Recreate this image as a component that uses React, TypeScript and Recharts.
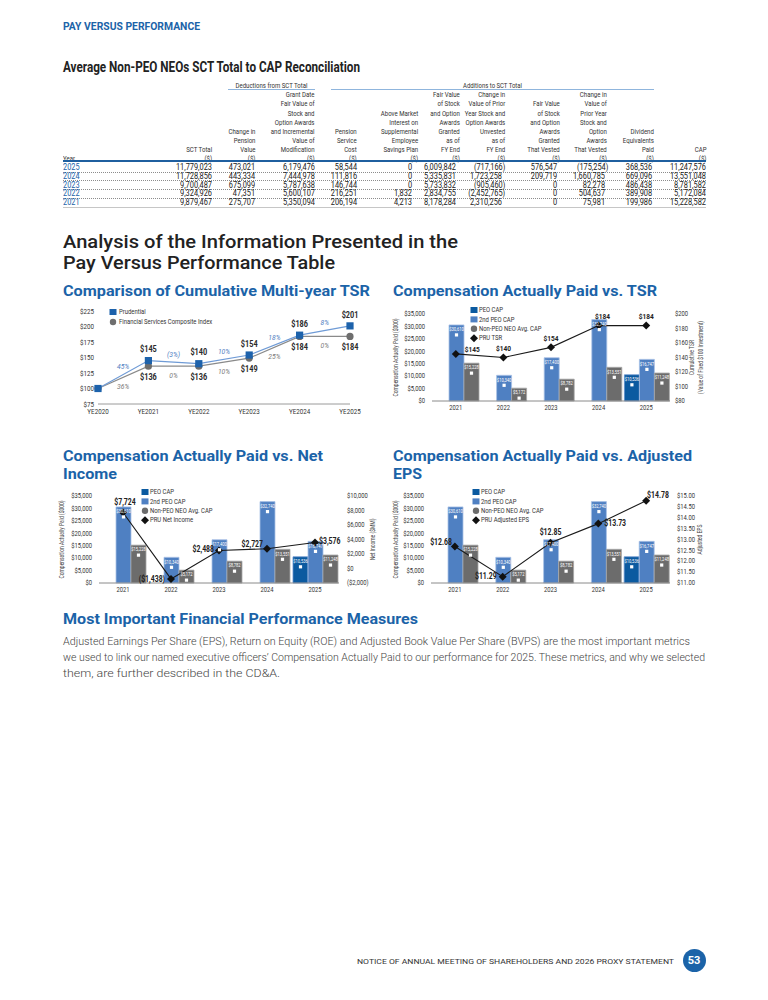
import React from "react";
import {
  ComposedChart,
  LineChart,
  Line,
  Bar,
  XAxis,
  YAxis,
  LabelList,
  ReferenceDot,
} from "recharts";

/* ── fonts / colours ───────────────────────────────────────────── */
// no condensed face is installed, so Roboto is squeezed horizontally
const COND = 'Roboto, "Liberation Sans", sans-serif';
const SANS = 'Roboto, "Noto Sans", "DejaVu Sans", sans-serif';
const K = 0.78;
const BLUE = "#1b63a8";
const INK = "#2a2a2a";
const PEO_DARK = "#0b5aa0";
const PEO_MID = "#4f80c2";
const NEO_GRAY = "#6c6c6c";

/* ── reconciliation table ──────────────────────────────────────── */
const tableYears = ["2025", "2024", "2023", "2022", "2021"];
const sctTotal = [11779023, 11728856, 9700487, 9324926, 9879467];
const pensionValueChange = [473021, 443334, 675099, 47351, 275707];
const grantDateFairValue = [6179476, 7444978, 5787638, 5600107, 5350094];
const pensionServiceCost = [58544, 111816, 146744, 216251, 206194];
const aboveMarketInterest = [0, 0, 0, 1832, 4213];
const fvGrantedUnvested = [6009842, 5335831, 5733832, 2834755, 8178284];
const chgPriorUnvested = [-717166, 1723258, -905460, -2452765, 2310256];
const fvGrantedVested = [576547, 209719, 0, 0, 0];
const chgPriorVested = [-175254, 1660785, 82278, 504637, 75981];
const dividendsPaid = [368536, 669096, 486438, 389908, 199986];
const capTotal = [11247576, 13551048, 8781582, 5172084, 15228582];

const tableHeaders = [
  ["SCT Total", "($)"],
  ["Change in", "Pension", "Value", "($)"],
  ["Grant Date", "Fair Value of", "Stock and", "Option Awards", "and Incremental", "Value of", "Modification", "($)"],
  ["Pension", "Service", "Cost", "($)"],
  ["Above Market", "Interest on", "Supplemental", "Employee", "Savings Plan", "($)"],
  ["Fair Value", "of Stock", "and Option", "Awards", "Granted", "as of", "FY End", "($)"],
  ["Change in", "Value of Prior", "Year Stock and", "Option Awards", "Unvested", "as of", "FY End", "($)"],
  ["Fair Value", "of Stock", "and Option", "Awards", "Granted", "That Vested", "($)"],
  ["Change in", "Value of", "Prior Year", "Stock and", "Option", "Awards", "That Vested", "($)"],
  ["Dividend", "Equivalents", "Paid", "($)"],
  ["CAP", "($)"],
];
const tableColumns = [
  sctTotal, pensionValueChange, grantDateFairValue, pensionServiceCost, aboveMarketInterest,
  fvGrantedUnvested, chgPriorUnvested, fvGrantedVested, chgPriorVested, dividendsPaid, capTotal,
];

/* ── TSR comparison ────────────────────────────────────────────── */
const tsrYears = ["YE2020", "YE2021", "YE2022", "YE2023", "YE2024", "YE2025"];
const prudentialTsr = [100, 145, 140, 154, 186, 201];
const compositeTsr = [100, 136, 136, 149, 184, 184];
const prudentialChange = ["45%", "(3%)", "10%", "18%", "8%"];
const compositeChange = ["36%", "0%", "10%", "25%", "0%"];
const tsrAxisTicks = [75, 100, 125, 150, 175, 200, 225];

/* ── CAP vs. measures ($000) ───────────────────────────────────── */
const capYears = ["2021", "2022", "2023", "2024", "2025"];
const peoCap = [null, null, null, null, 10536];
const secondPeoCap = [30610, 10340, 17400, 32740, 16747];
const neoAvgCap = [15228, 5172, 8782, 13551, 11248];
const pruTsr = [145, 140, 154, 184, 184];
const pruNetIncome = [7724, -1438, 2488, 2727, 3576];
const pruAdjEps = [12.68, 11.29, 12.85, 13.73, 14.78];

const capTicks = [0, 5000, 10000, 15000, 20000, 25000, 30000, 35000];
const cumTsrTicks = [80, 100, 120, 140, 160, 180, 200];
const netIncomeTicks = [-2000, 0, 2000, 4000, 6000, 8000, 10000];
const epsTicks = [11, 11.5, 12, 12.5, 13, 13.5, 14, 14.5, 15];

const capLegend = ["PEO CAP", "2nd PEO CAP", "Non-PEO NEO Avg. CAP"];

const fmtNum = (v: number) =>
  v < 0 ? `(${Math.abs(v).toLocaleString("en-US")})` : v.toLocaleString("en-US");
const fmtMoney = (v: number) =>
  v < 0 ? `($${Math.abs(v).toLocaleString("en-US")})` : `$${v.toLocaleString("en-US")}`;
const fmtEps = (v: number) => `$${v.toFixed(2)}`;
const fmtWhole = (v: number) => `$${v}`;

/* label placement around the line points: [dx, dy, anchor] */
type Place = [number, number, "start" | "middle" | "end"];
const TOP: Place = [0, -9, "middle"];
const tsrPlaces: Place[] = [[9, -5, "start"], TOP, TOP, [4, -9, "middle"], TOP];
const niPlaces: Place[] = [[2, -10, "middle"], [-6, 0, "end"], [-5, -1, "end"], [-4, -4, "end"], [4, -1, "start"]];
const epsPlaces: Place[] = [[-3, -4, "end"], [-6, 0, "end"], [0, -10, "middle"], [6, 0, "start"], [1, -6, "start"]];

/* ── small pieces ──────────────────────────────────────────────── */
// svg text stretched to the width it has in the printed page; y is the cap centre
function Fit({ x, y, w, size, weight = 400, color = INK, family = COND, anchor = "start", children }: any) {
  const H = size * 2;
  return (
    <svg
      style={{ position: "absolute", left: 0, top: y - H / 2, overflow: "visible", pointerEvents: "none" }}
      width={768}
      height={H}
    >
      <text
        x={x}
        y={H / 2 + size * 0.355}
        textAnchor={anchor}
        textLength={w}
        lengthAdjust="spacingAndGlyphs"
        fontSize={size}
        fontWeight={weight}
        fill={color}
        fontFamily={family}
      >
        {children}
      </text>
    </svg>
  );
}

function NText({ x, y, k = K, anchor = "start", base = "central", size = 7.5, weight, fill = "#333", italic, rotate, children }: any) {
  return (
    <text
      transform={`translate(${x} ${y})${rotate ? ` rotate(${rotate})` : ""} scale(${k} 1)`}
      textAnchor={anchor}
      dominantBaseline={base}
      fontSize={size}
      fontWeight={weight}
      fontStyle={italic ? "italic" : undefined}
      fill={fill}
      fontFamily={COND}
    >
      {children}
    </text>
  );
}

function Marker({ kind, color, cx, cy }: any) {
  if (kind === "circle") return <circle cx={cx} cy={cy} r={3.2} fill={color} />;
  if (kind === "diamond")
    return (
      <polygon
        points={`${cx},${cy - 4} ${cx + 4},${cy} ${cx},${cy + 4} ${cx - 4},${cy}`}
        fill={color}
      />
    );
  return <rect x={cx - 3.5} y={cy - 3} width={7} height={6} fill={color} />;
}

function KeyBox({ mx, my, step, textGap, items }: any) {
  return (
    <svg
      style={{ position: "absolute", left: mx - 6, top: my - 6, overflow: "visible" }}
      width={160}
      height={items.length * step + 6}
    >
      {items.map((it: any, i: number) => (
        <g key={it.label}>
          <Marker kind={it.kind} color={it.color} cx={6} cy={6 + i * step} />
          <NText x={6 + textGap} y={6 + i * step} size={7.6}>
            {it.label}
          </NText>
        </g>
      ))}
    </svg>
  );
}

const yTick = (fmt: (v: number) => string, size = 7.5) => (p: any) => (
  <NText x={p.x} y={p.y} anchor={p.textAnchor} size={size}>
    {fmt(p.payload.value)}
  </NText>
);
const xTick = (fmt: (v: any) => string, size = 7.5) => (p: any) => (
  <NText x={p.x} y={p.y} anchor="middle" base="hanging" size={size}>
    {fmt(p.payload.value)}
  </NText>
);

function BarTag(props: any) {
  const vb = props.viewBox || props;
  const x = vb.x ?? props.x;
  const y = vb.y ?? props.y;
  const w = vb.width ?? props.width;
  const value = props.value;
  if (value == null || x == null) return null;
  const cx = x + w / 2;
  return (
    <g>
      <NText x={cx} y={y + 4.6} anchor="middle" size={4.8} fill="#fff" k={0.85}>
        {fmtMoney(value)}
      </NText>
      <rect x={cx - 1.6} y={y + 8.4} width={3.2} height={3.2} fill="#fff" />
    </g>
  );
}

const pointTag = (places: Place[], fmt: (v: number) => string, size: number) => (props: any) => {
  const vb = props.viewBox || props;
  const x = vb.x ?? props.x;
  const y = vb.y ?? props.y;
  const i = props.index ?? 0;
  const [dx, dy, anchor] = places[i] || TOP;
  return (
    <NText x={x + dx} y={y + dy} anchor={anchor} size={size} weight={700} fill="#222" k={0.82}>
      {fmt(props.value)}
    </NText>
  );
};

const diamondDot = (p: any) => (
  <polygon
    key={`dm${p.index}`}
    points={`${p.cx},${p.cy - 4} ${p.cx + 4},${p.cy} ${p.cx},${p.cy + 4} ${p.cx - 4},${p.cy}`}
    fill="#111"
  />
);

const leftTitle = (props: any) => {
  const vb = props.viewBox;
  return (
    <NText x={vb.x + 6} y={vb.y + vb.height / 2} anchor="middle" size={6.4} fill="#444" rotate={-90}>
      Compensation Actually Paid ($000)
    </NText>
  );
};

const rightTitle = (lines: string[], first: number) => (props: any) => {
  const vb = props.viewBox;
  return (
    <g>
      {lines.map((ln, k) => (
        <NText key={ln} x={vb.x + first + k * 9} y={vb.y + vb.height / 2} anchor="middle" size={6.4} fill="#444" rotate={-90}>
          {ln}
        </NText>
      ))}
    </g>
  );
};

/* ── CAP combo chart ───────────────────────────────────────────── */
function CapChart({ left, top, width, leftW, rightW, metric, domain, ticks, fmt, rightTick, titles, titleAt, places, tagSize }: any) {
  const rows = capYears.map((year, i) => ({
    year,
    peo: peoCap[i],
    peo2: secondPeoCap[i],
    neo: neoAvgCap[i],
    metric: metric[i],
  }));
  return (
    <div style={{ position: "absolute", left, top }}>
      <ComposedChart
        width={width}
        height={118}
        data={rows}
        margin={{ top: 12, right: 0, bottom: 2, left: 0 }}
        barCategoryGap={2}
        barGap={0}
      >
        <XAxis
          dataKey="year"
          height={17}
          tick={xTick(String)}
          tickLine={false}
          tickSize={2}
          tickMargin={2}
          axisLine={{ stroke: "#8a8a8a" }}
        />
        <YAxis
          yAxisId="cap"
          width={leftW}
          domain={[0, 35000]}
          ticks={capTicks}
          tick={yTick(fmtMoney)}
          tickLine={false}
          tickSize={5}
          tickMargin={2}
          axisLine={false}
          interval={0}
          label={leftTitle}
        />
        <YAxis
          yAxisId="metric"
          orientation="right"
          width={rightW}
          domain={domain}
          ticks={ticks}
          tick={yTick(fmt)}
          tickLine={false}
          tickSize={rightTick}
          tickMargin={2}
          axisLine={false}
          interval={0}
          label={rightTitle(titles, titleAt)}
        />
        <Bar yAxisId="cap" dataKey="peo" fill={PEO_DARK} stroke="#5f8ecb" strokeWidth={0.8} isAnimationActive={false} label={BarTag} />
        <Bar yAxisId="cap" dataKey="peo2" fill={PEO_MID} stroke="#a9c2e6" strokeWidth={0.8} isAnimationActive={false} label={BarTag} />
        <Bar yAxisId="cap" dataKey="neo" fill={NEO_GRAY} stroke="#a6a6a6" strokeWidth={0.8} isAnimationActive={false} label={BarTag} />
        <Line
          yAxisId="metric"
          dataKey="metric"
          type="linear"
          stroke="#1a1a1a"
          strokeWidth={1.1}
          dot={diamondDot}
          isAnimationActive={false}
        >
          <LabelList dataKey="metric" content={pointTag(places, fmt, tagSize)} />
        </Line>
      </ComposedChart>
    </div>
  );
}

/* ── TSR comparison chart ──────────────────────────────────────── */
function TsrChart() {
  const rows = tsrYears.map((label, i) => ({
    x: i,
    label,
    pru: prudentialTsr[i],
    comp: compositeTsr[i],
  }));
  const tag = (dy: number) => (props: any) => {
    const vb = props.viewBox || props;
    const x = vb.x ?? props.x;
    const y = vb.y ?? props.y;
    if (props.index === 0) return null;
    return (
      <NText x={x} y={y + dy} anchor="middle" size={8.6} weight={700} fill="#2a2a2a" k={0.85}>
        ${props.value}
      </NText>
    );
  };
  const pct = (txt: string, dy: number, color: string) => (p: any) => (
    <NText x={p.cx} y={p.cy + dy} anchor="middle" size={8} italic fill={color} k={0.85}>
      {txt}
    </NText>
  );
  return (
    <div style={{ position: "absolute", left: 56, top: 302 }}>
      <LineChart width={316} height={118} data={rows} margin={{ top: 9, right: 22, bottom: 2, left: 0 }}>
        <XAxis
          type="number"
          dataKey="x"
          domain={[0, 5]}
          ticks={[0, 1, 2, 3, 4, 5]}
          tick={xTick((i: number) => tsrYears[i], 8)}
          height={14}
          tickLine={false}
          tickSize={2}
          tickMargin={2}
          interval={0}
          axisLine={{ stroke: "#9a9a9a" }}
        />
        <YAxis
          width={42}
          domain={[75, 225]}
          ticks={tsrAxisTicks}
          tick={yTick(fmtWhole, 8)}
          tickLine={false}
          tickSize={2}
          tickMargin={2}
          axisLine={false}
          interval={0}
        />
        <Line
          dataKey="comp"
          type="linear"
          stroke="#8a8a8a"
          strokeWidth={1.2}
          isAnimationActive={false}
          dot={(p: any) => <circle key={`c${p.index}`} cx={p.cx} cy={p.cy} r={3.6} fill="#6e6e6e" />}
        >
          <LabelList dataKey="comp" content={tag(11)} />
        </Line>
        <Line
          dataKey="pru"
          type="linear"
          stroke="#6f9bd6"
          strokeWidth={1.2}
          isAnimationActive={false}
          dot={(p: any) => <rect key={`s${p.index}`} x={p.cx - 3.6} y={p.cy - 3.6} width={7.2} height={7.2} fill="#1d62ab" />}
        >
          <LabelList dataKey="pru" content={tag(-11)} />
        </Line>
        {prudentialChange.map((txt, i) => (
          <ReferenceDot
            key={`pp${i}`}
            x={i + 0.5}
            y={(prudentialTsr[i] + prudentialTsr[i + 1]) / 2}
            r={0}
            shape={pct(txt, -8, "#4f80c2")}
          />
        ))}
        {compositeChange.map((txt, i) => (
          <ReferenceDot
            key={`cp${i}`}
            x={i + 0.5}
            y={(compositeTsr[i] + compositeTsr[i + 1]) / 2}
            r={0}
            shape={pct(txt, 9, "#7a7a7a")}
          />
        ))}
      </LineChart>
    </div>
  );
}

/* ── reconciliation table ──────────────────────────────────────── */
const headRight = [212, 255, 315, 357, 418, 460, 505, 560, 607, 654, 706];
const valueRight = [212, 255, 315, 357, 412, 456, 502, 557, 605, 652, 706];
const LINE = 9.05;
const ROW = 8.7;
const cell = (size: number, k: number, origin: string): React.CSSProperties => ({
  position: "absolute",
  fontSize: size,
  fontFamily: COND,
  whiteSpace: "nowrap",
  transform: `scaleX(${k})`,
  transformOrigin: origin,
});

function ReconTable() {
  return (
    <>
      <Fit x={271.5} y={85} w={72} size={8} anchor="middle" color="#333">Deductions from SCT Total</Fit>
      <div style={{ position: "absolute", left: 228, width: 87, top: 88.5, borderTop: "1.5px solid #8fb5dd" }} />
      <Fit x={492.5} y={85} w={59} size={8} anchor="middle" color="#333">Additions to SCT Total</Fit>
      <div style={{ position: "absolute", left: 331, width: 323, top: 88.5, borderTop: "1.5px solid #8fb5dd" }} />

      {tableHeaders.map((lines, c) => (
        <div
          key={`h${c}`}
          style={{
            ...cell(8, 0.76, "right center"),
            right: 768 - headRight[c],
            top: 158.3 + LINE / 2 - lines.length * LINE,
            lineHeight: `${LINE}px`,
            color: "#333",
            textAlign: "right",
          }}
        >
          {lines.map((l, k) => (
            <div key={k}>{l}</div>
          ))}
        </div>
      ))}
      <div style={{ ...cell(8, 0.76, "left center"), left: 63, top: 158.3 - LINE / 2, lineHeight: `${LINE}px`, color: "#333" }}>
        Year
      </div>
      <div style={{ position: "absolute", left: 63, width: 643, top: 160, borderTop: "2px solid #1f5f9f" }} />

      {tableYears.map((yr, r) => {
        const cy = 167.7 + r * ROW;
        return (
          <React.Fragment key={yr}>
            <div style={{ ...cell(9, 0.82, "left center"), left: 63, top: cy - ROW / 2, lineHeight: `${ROW}px`, color: BLUE }}>
              {yr}
            </div>
            {tableColumns.map((col, c) => (
              <div
                key={`v${r}-${c}`}
                style={{
                  ...cell(9, 0.82, "right center"),
                  right: 768 - valueRight[c] - (col[r] < 0 ? 3 : 0),
                  top: cy - ROW / 2,
                  lineHeight: `${ROW}px`,
                  color: "#222",
                }}
              >
                {fmtNum(col[r])}
              </div>
            ))}
            {r < tableYears.length - 1 ? (
              <div style={{ position: "absolute", left: 63, width: 643, top: cy + ROW / 2 - 0.5, borderTop: "1px dotted #8c8c8c" }} />
            ) : (
              <div style={{ position: "absolute", left: 63, width: 643, top: cy + ROW / 2 + 0.5, borderTop: "1.5px solid #c6c6c6" }} />
            )}
          </React.Fragment>
        );
      })}
    </>
  );
}

/* ── page ──────────────────────────────────────────────────────── */
export default function App() {
  const capKeys = [
    { label: capLegend[0], kind: "square", color: PEO_DARK },
    { label: capLegend[1], kind: "square", color: PEO_MID },
    { label: capLegend[2], kind: "circle", color: NEO_GRAY },
  ];
  return (
    <div style={{ position: "absolute", left: 0, top: 0, width: 768, height: 1000, background: "#fff", overflow: "hidden" }}>
      <Fit x={63} y={25.5} w={137} size={11} weight={700} color={BLUE}>PAY VERSUS PERFORMANCE</Fit>
      <Fit x={63} y={67} w={297} size={14} weight={700} color="#222">
        Average Non-PEO NEOs SCT Total to CAP Reconciliation
      </Fit>

      <ReconTable />

      <Fit x={63} y={241} w={395} size={18.5} weight={500} family={SANS} color="#222">
        Analysis of the Information Presented in the
      </Fit>
      <Fit x={63} y={262} w={272} size={18.5} weight={500} family={SANS} color="#222">
        Pay Versus Performance Table
      </Fit>

      <Fit x={63} y={290} w={307} size={14.5} weight={700} color={BLUE}>Comparison of Cumulative Multi-year TSR</Fit>
      <Fit x={393} y={290} w={264} size={14.5} weight={700} color={BLUE}>Compensation Actually Paid vs. TSR</Fit>
      <Fit x={63} y={455} w={260} size={14.5} weight={700} color={BLUE}>Compensation Actually Paid vs. Net</Fit>
      <Fit x={63} y={473} w={54} size={14.5} weight={700} color={BLUE}>Income</Fit>
      <Fit x={393} y={455} w={299} size={14.5} weight={700} color={BLUE}>Compensation Actually Paid vs. Adjusted</Fit>
      <Fit x={393} y={473} w={29} size={14.5} weight={700} color={BLUE}>EPS</Fit>

      <TsrChart />
      <KeyBox
        mx={113}
        my={312}
        step={10}
        textGap={6}
        items={[
          { label: "Prudential", kind: "square", color: "#1d62ab" },
          { label: "Financial Services Composite Index", kind: "circle", color: "#6e6e6e" },
        ]}
      />

      <CapChart
        left={390}
        top={302}
        width={330}
        leftW={42}
        rightW={50}
        metric={pruTsr}
        domain={[80, 200]}
        ticks={cumTsrTicks}
        fmt={fmtWhole}
        rightTick={3}
        titles={["Cumulative TSR", "(Value of Fixed $100 Investment)"]}
        titleAt={22}
        places={tsrPlaces}
        tagSize={8}
      />
      <KeyBox mx={474} my={309.5} step={9.4} textGap={5} items={[...capKeys, { label: "PRU TSR", kind: "diamond", color: "#111" }]} />

      <CapChart
        left={56}
        top={484}
        width={324}
        leftW={43}
        rightW={41}
        metric={pruNetIncome}
        domain={[-2000, 10000]}
        ticks={netIncomeTicks}
        fmt={fmtMoney}
        rightTick={6}
        titles={["Net Income ($MM)"]}
        titleAt={34}
        places={niPlaces}
        tagSize={8.4}
      />
      <KeyBox mx={145} my={492.3} step={9.4} textGap={5} items={[...capKeys, { label: "PRU Net Income", kind: "diamond", color: "#111" }]} />

      <CapChart
        left={390}
        top={484}
        width={330}
        leftW={41}
        rightW={50}
        metric={pruAdjEps}
        domain={[11, 15]}
        ticks={epsTicks}
        fmt={fmtEps}
        rightTick={5}
        titles={["Adjusted EPS"]}
        titleAt={30}
        places={epsPlaces}
        tagSize={8.4}
      />
      <KeyBox mx={476} my={492.3} step={9.4} textGap={5} items={[...capKeys, { label: "PRU Adjusted EPS", kind: "diamond", color: "#111" }]} />

      <Fit x={63} y={618} w={355} size={14.5} weight={700} color={BLUE}>Most Important Financial Performance Measures</Fit>
      <Fit x={63} y={641} w={627} size={10.4} weight={300} family={SANS} color="#444">
        Adjusted Earnings Per Share (EPS), Return on Equity (ROE) and Adjusted Book Value Per Share (BVPS) are the most important metrics
      </Fit>
      <Fit x={63} y={657} w={642} size={10.4} weight={300} family={SANS} color="#444">
        we used to link our named executive officers’ Compensation Actually Paid to our performance for 2025. These metrics, and why we selected
      </Fit>
      <Fit x={63} y={673} w={217} size={10.4} weight={300} family={SANS} color="#444">
        them, are further described in the CD&amp;A.
      </Fit>

      <Fit x={357} y={961} w={317} size={8} family={SANS} color="#333">
        NOTICE OF ANNUAL MEETING OF SHAREHOLDERS AND 2026 PROXY STATEMENT
      </Fit>
      <div
        style={{
          position: "absolute",
          left: 694 - 11.5,
          top: 960 - 11.5,
          width: 23,
          height: 23,
          borderRadius: "50%",
          background: BLUE,
          color: "#fff",
          fontFamily: SANS,
          fontWeight: 700,
          fontSize: 11,
          lineHeight: "23px",
          textAlign: "center",
        }}
      >
        53
      </div>
    </div>
  );
}
